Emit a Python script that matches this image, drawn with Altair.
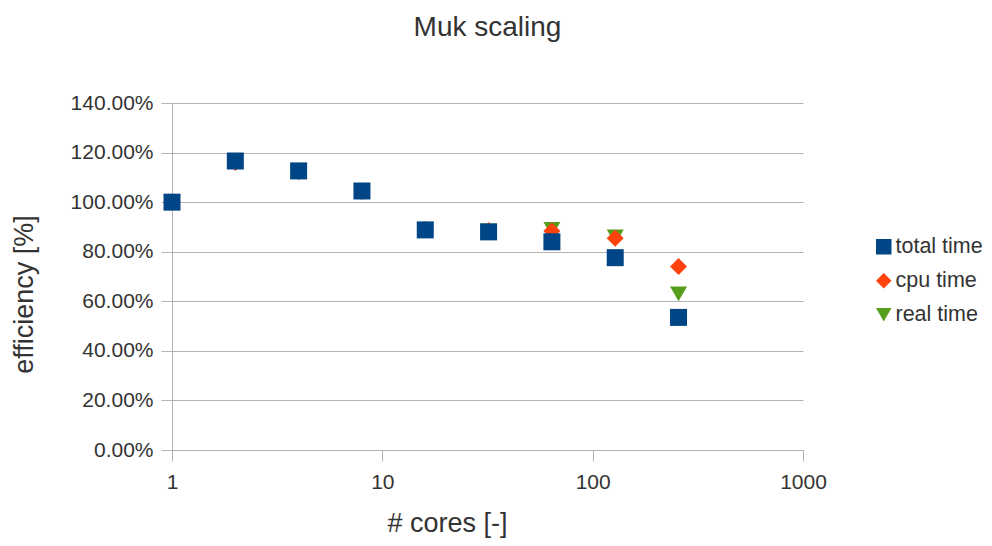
import altair as alt
import pandas as pd

cores = [1, 2, 4, 8, 16, 32, 64, 128, 256]
total_time = [1.000, 1.166, 1.126, 1.045, 0.888, 0.880, 0.840, 0.776, 0.535]
cpu_time = [1.000, 1.160, 1.124, 1.043, 0.890, 0.886, 0.884, 0.854, 0.740]
real_time = [1.000, 1.164, 1.126, 1.046, 0.889, 0.884, 0.890, 0.860, 0.630]

series = ["total time", "cpu time", "real time"]
colors = ["#004586", "#ff420e", "#579d1c"]
shapes = ["square", "diamond", "triangle-down"]

x_ticks = [1, 10, 100, 1000]
y_ticks = [0, 0.2, 0.4, 0.6, 0.8, 1.0, 1.2, 1.4]

rows = []
for name, vals in [("real time", real_time), ("cpu time", cpu_time), ("total time", total_time)]:
    for c, v in zip(cores, vals):
        rows.append({"cores": c, "efficiency": v, "series": name})
df = pd.DataFrame(rows)

font = "Liberation Sans"
text_color = "#333333"
line_color = "#b3b3b3"

legend = alt.Legend(
    title=None, orient="none", legendX=701, legendY=133,
    labelFontSize=21.5, labelFont=font, labelColor=text_color,
    symbolSize=240, symbolStrokeWidth=0, rowPadding=11, labelOffset=1, padding=0,
)

chart = alt.Chart(df).mark_point(filled=True, opacity=1, size=289, strokeWidth=0).encode(
    x=alt.X("cores:Q",
            scale=alt.Scale(type="log", domain=[1, 1000]),
            axis=alt.Axis(values=x_ticks, format="d", title="# cores [-]", grid=False,
                          tickSize=11, labelPadding=10, labelFlush=False,
                          titleX=275, titleY=81,
                          titleBaseline="alphabetic", titleAlign="center")),
    y=alt.Y("efficiency:Q",
            scale=alt.Scale(domain=[0, 1.4]),
            axis=alt.Axis(values=y_ticks, format=".2%", title="efficiency [%]",
                          tickSize=11, labelPadding=8, titleAngle=-90,
                          titleX=-148, titleY=191, titleAlign="center",
                          titleBaseline="middle")),
    color=alt.Color("series:N", scale=alt.Scale(domain=series, range=colors), legend=legend),
    shape=alt.Shape("series:N", scale=alt.Scale(domain=series, range=shapes), legend=legend),
).properties(
    width=631, height=347,
    autosize=alt.AutoSizeParams(type="none"),
    padding={"left": 164, "top": 95, "right": 181, "bottom": 88},
    title=alt.TitleParams("Muk scaling", fontSize=28, font=font, color=text_color,
                          fontWeight="normal", anchor="middle", baseline="alphabetic",
                          offset=28),
).configure_view(stroke=None).configure_axis(
    domainColor=line_color, tickColor=line_color, gridColor=line_color,
    labelColor=text_color, titleColor=text_color, labelFont=font, titleFont=font,
    labelFontSize=21, titleFontSize=27, titleFontWeight="normal",
)

chart.save("out.html", embed_options={"renderer": "svg", "actions": False})
